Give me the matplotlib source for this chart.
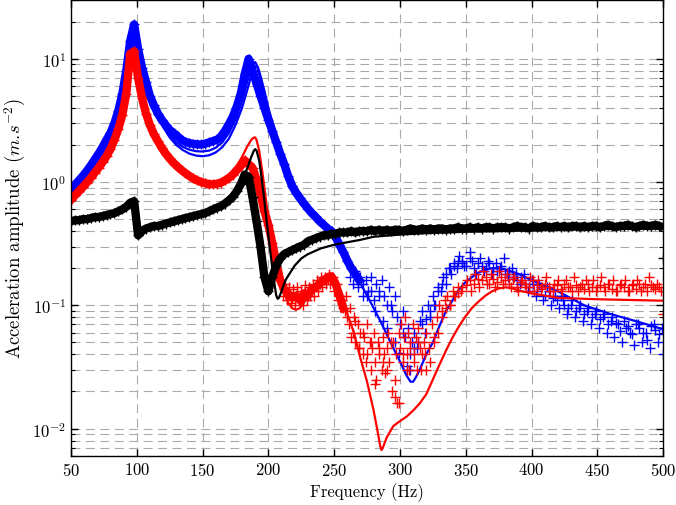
import matplotlib
matplotlib.use('Agg')
import matplotlib.pyplot as plt
import numpy as np

plt.rcParams['font.family'] = 'serif'
plt.rcParams['font.serif'] = ['cmr10']
plt.rcParams['mathtext.fontset'] = 'cm'
plt.rcParams['axes.formatter.use_mathtext'] = True
plt.rcParams['axes.unicode_minus'] = False

# measured points, every 3 Hz from 50 to 500 Hz
f_meas = np.arange(50, 501, 3)

blue_meas = [
    0.87, 0.95, 1.03, 1.12, 1.23, 1.36, 1.52, 1.70, 1.92, 2.2,
    2.5, 3.0, 3.8, 5.2, 8.0, 14.0, 19.0, 12.0, 8.5, 6.5,
    5.0, 4.2, 3.6, 3.2, 2.9, 2.65, 2.5, 2.35, 2.2, 2.12,
    2.07, 2.04, 2.02, 2.02, 2.05, 2.1, 2.15, 2.2, 2.35, 2.6,
    2.95, 3.4, 4.1, 5.2, 7.5, 10.0, 8.0, 6.3, 5.0, 4.0,
    3.2, 2.6, 2.1, 1.7, 1.4, 1.12, 0.93, 0.82, 0.74, 0.67,
    0.61, 0.56, 0.52, 0.48, 0.45, 0.42, 0.40, 0.36, 0.31, 0.27,
    0.23, 0.2, 0.18, 0.16, 0.15, 0.12, 0.13, 0.09, 0.12, 0.075,
    0.065, 0.10, 0.05, 0.041, 0.06, 0.032, 0.03, 0.045, 0.05, 0.07,
    0.078, 0.09, 0.1, 0.13, 0.15, 0.18, 0.2, 0.21, 0.23, 0.22,
    0.21, 0.24, 0.2, 0.22, 0.21, 0.2, 0.22, 0.2, 0.19, 0.21,
    0.18, 0.19, 0.17, 0.16, 0.17, 0.15, 0.14, 0.15, 0.13, 0.14,
    0.12, 0.13, 0.115, 0.11, 0.12, 0.1, 0.095, 0.11, 0.09, 0.1,
    0.085, 0.095, 0.08, 0.09, 0.078, 0.085, 0.07, 0.08, 0.072, 0.062,
    0.075, 0.068, 0.058, 0.07, 0.065, 0.06, 0.052, 0.068, 0.063, 0.058,
    0.04]

red_meas = [
    0.72, 0.78, 0.84, 0.91, 0.99, 1.08, 1.19, 1.31, 1.45, 1.62,
    1.85, 2.2, 2.7, 3.5, 5.2, 11.0, 11.5, 7.0, 4.8, 3.6,
    2.9, 2.45, 2.15, 1.9, 1.7, 1.55, 1.43, 1.33, 1.25, 1.18,
    1.12, 1.07, 1.03, 1.0, 0.98, 0.96, 0.96, 0.97, 0.99, 1.03,
    1.08, 1.15, 1.25, 1.35, 1.5, 1.4, 1.3, 1.05, 0.8, 0.58,
    0.45, 0.32, 0.22, 0.16, 0.135, 0.125, 0.115, 0.12, 0.11, 0.125,
    0.12, 0.135, 0.14, 0.15, 0.16, 0.165, 0.17, 0.15, 0.12, 0.095,
    0.08, 0.055, 0.075, 0.045, 0.06, 0.04, 0.05, 0.023, 0.045, 0.035,
    0.03, 0.05, 0.025, 0.016, 0.04, 0.03, 0.045, 0.035, 0.05, 0.04,
    0.03, 0.035, 0.05, 0.06, 0.08, 0.095, 0.1, 0.12, 0.125, 0.14,
    0.145, 0.16, 0.15, 0.165, 0.16, 0.17, 0.15, 0.165, 0.155, 0.17,
    0.16, 0.15, 0.165, 0.14, 0.155, 0.15, 0.14, 0.16, 0.145, 0.135,
    0.15, 0.14, 0.13, 0.145, 0.135, 0.15, 0.14, 0.13, 0.145, 0.14,
    0.135, 0.15, 0.14, 0.13, 0.145, 0.14, 0.15, 0.135, 0.13, 0.145,
    0.14, 0.13, 0.145, 0.135, 0.15, 0.14, 0.13, 0.145, 0.135, 0.14,
    0.085]

black_meas = [
    0.48, 0.49, 0.49, 0.50, 0.50, 0.51, 0.52, 0.52, 0.53, 0.54,
    0.55, 0.56, 0.58, 0.60, 0.63, 0.68, 0.70, 0.37, 0.40, 0.42,
    0.43, 0.44, 0.44, 0.45, 0.46, 0.47, 0.48, 0.49, 0.50, 0.51,
    0.52, 0.53, 0.54, 0.55, 0.56, 0.58, 0.60, 0.62, 0.64, 0.67,
    0.71, 0.76, 0.84, 0.96, 1.15, 1.1, 0.75, 0.48, 0.3, 0.17,
    0.13, 0.17, 0.21, 0.24, 0.26, 0.27, 0.28, 0.29, 0.30, 0.31,
    0.33, 0.34, 0.35, 0.36, 0.37, 0.37, 0.38, 0.38, 0.39, 0.39,
    0.39, 0.40, 0.39, 0.40, 0.40, 0.40, 0.41, 0.40, 0.41, 0.40,
    0.41, 0.40, 0.41, 0.41, 0.40, 0.41, 0.42, 0.41, 0.41, 0.42,
    0.41, 0.42, 0.41, 0.42, 0.42, 0.41, 0.42, 0.42, 0.43, 0.42,
    0.42, 0.43, 0.42, 0.43, 0.42, 0.43, 0.43, 0.42, 0.43, 0.43,
    0.43, 0.42, 0.43, 0.44, 0.43, 0.43, 0.42, 0.44, 0.43, 0.43,
    0.44, 0.43, 0.43, 0.44, 0.43, 0.44, 0.43, 0.44, 0.44, 0.43,
    0.44, 0.43, 0.44, 0.44, 0.43, 0.44, 0.45, 0.44, 0.43, 0.44,
    0.44, 0.45, 0.44, 0.43, 0.44, 0.45, 0.44, 0.44, 0.45, 0.44,
    0.24]

# extra scattered measurements (noisy regions)
red_xf = [211, 213, 214, 216, 217, 219, 220, 222, 223, 225, 226, 228, 229, 231, 232,
          234, 235, 237, 238, 240, 241, 243, 244, 246, 247, 249, 250, 252, 253, 255,
          256, 258, 259, 261, 262, 264, 265, 266, 268, 269, 270, 272, 273, 274, 275,
          277, 278, 279, 280, 281, 282, 283, 284, 286, 287, 288, 289, 290, 291, 292,
          294, 295, 296, 297, 298, 299, 300, 301, 302, 303, 304, 305, 306, 307, 308,
          310, 311, 312, 313, 314, 315, 316, 318, 319, 320, 322, 324, 326, 328, 330,
          332, 334, 336, 338, 340, 342, 344, 346,
          351, 354, 357, 360, 363, 366, 369, 372, 375, 378, 381, 384, 387, 390, 393,
          396, 399, 402, 405, 408, 411, 414, 417, 420, 423, 426, 429, 432, 435, 438,
          441, 444, 447, 450, 453, 456, 459, 462, 465, 468, 471, 474, 477, 480, 483,
          486, 489, 492, 495, 498]
red_xv = [0.12, 0.15, 0.11, 0.14, 0.105, 0.135, 0.1, 0.14, 0.11, 0.13, 0.1, 0.145, 0.11, 0.14, 0.12,
          0.15, 0.12, 0.16, 0.13, 0.17, 0.14, 0.17, 0.15, 0.18, 0.15, 0.17, 0.13, 0.15, 0.11, 0.12,
          0.11, 0.09, 0.12, 0.07, 0.095, 0.06, 0.08, 0.05, 0.07, 0.045, 0.06, 0.04, 0.055, 0.035, 0.07,
          0.05, 0.03, 0.045, 0.06, 0.035, 0.025, 0.05, 0.04, 0.03, 0.055, 0.04, 0.028, 0.045, 0.06, 0.035,
          0.02, 0.05, 0.018, 0.04, 0.016, 0.06, 0.045, 0.07, 0.035, 0.055, 0.08, 0.04, 0.06, 0.03, 0.05,
          0.07, 0.04, 0.055, 0.03, 0.065, 0.045, 0.03, 0.05, 0.04, 0.06, 0.045, 0.07, 0.055, 0.08, 0.1,
          0.09, 0.11, 0.12, 0.1, 0.13, 0.12, 0.14, 0.13,
          0.16, 0.13, 0.18, 0.14, 0.19, 0.15, 0.18, 0.14, 0.19, 0.15, 0.18, 0.14, 0.17, 0.13, 0.16,
          0.14, 0.17, 0.13, 0.16, 0.14, 0.17, 0.13, 0.15, 0.16, 0.13, 0.16, 0.14, 0.17, 0.13, 0.15,
          0.16, 0.13, 0.16, 0.14, 0.17, 0.13, 0.15, 0.16, 0.13, 0.15, 0.16, 0.13, 0.15, 0.16, 0.13,
          0.15, 0.17, 0.14, 0.15, 0.13]

blue_xf = [262, 264, 266, 268, 270, 272, 274, 276, 278, 280, 282, 284, 286, 288, 290,
           292, 294, 296, 298, 300, 302, 304, 306, 308, 309, 311, 313, 315, 317, 319,
           321, 323, 325, 327, 329, 331, 333, 335, 337, 339, 341, 343, 345, 347, 349, 353,
           355, 358, 361, 364, 367, 370, 373, 376, 379, 382, 385, 388, 391, 394, 397,
           400, 403, 406, 409, 412, 415, 418, 421, 424, 427, 430, 433, 436, 439, 442,
           445, 448, 451, 454, 457, 460, 463, 466, 469, 472, 475, 478, 481, 484, 487,
           490, 493, 496, 499]
blue_xv = [0.17, 0.15, 0.19, 0.14, 0.17, 0.12, 0.16, 0.13, 0.17, 0.11, 0.15, 0.13, 0.16, 0.12, 0.1,
           0.14, 0.09, 0.12, 0.08, 0.07, 0.09, 0.055, 0.065, 0.04, 0.05, 0.06, 0.045, 0.075, 0.09, 0.06,
           0.1, 0.08, 0.12, 0.1, 0.14, 0.13, 0.17, 0.15, 0.2, 0.18, 0.22, 0.2, 0.25, 0.23, 0.21, 0.27,
           0.23, 0.18, 0.24, 0.19, 0.23, 0.18, 0.22, 0.2, 0.24, 0.17, 0.2, 0.18, 0.15, 0.18, 0.13,
           0.16, 0.12, 0.15, 0.11, 0.14, 0.1, 0.12, 0.095, 0.11, 0.085, 0.1, 0.08, 0.095, 0.075, 0.09,
           0.07, 0.085, 0.065, 0.08, 0.06, 0.075, 0.055, 0.07, 0.05, 0.065, 0.06, 0.048, 0.07, 0.05, 0.06,
           0.045, 0.07, 0.05, 0.065]

# model curves
f_blue = [50, 60, 70, 80, 85, 90, 93, 95, 97, 98, 99, 101, 104, 108, 112, 116,
          120, 125, 130, 135, 140, 145, 150, 155, 160, 165, 170, 175, 180, 184,
          187, 189, 190, 191, 193, 196, 200, 205, 210, 215, 220, 225, 230, 235,
          240, 245, 250, 255, 260, 265, 270, 275, 280, 285, 290, 295, 300, 305,
          308, 310, 312, 315, 320, 325, 330, 335, 340, 345, 350, 355, 360, 365,
          370, 375, 380, 390, 400, 420, 440, 460, 480, 500]
blue_model = [0.85, 1.15, 1.65, 2.5, 3.3, 5.0, 7.5, 11, 17, 18, 17, 12, 8, 5.5, 4.2, 3.4,
              2.85, 2.4, 2.1, 1.93, 1.83, 1.78, 1.77, 1.8, 1.9, 2.1, 2.5, 3.2, 4.6, 6.5,
              8.5, 9.3, 9.4, 9.0, 7.5, 5.5, 3.8, 2.5, 1.7, 1.25, 0.95, 0.77, 0.65, 0.57,
              0.50, 0.44, 0.38, 0.32, 0.25, 0.19, 0.15, 0.12, 0.095, 0.075, 0.058, 0.045, 0.035, 0.027,
              0.024, 0.024, 0.026, 0.03, 0.04, 0.05, 0.068, 0.09, 0.11, 0.135, 0.155, 0.17, 0.185, 0.195,
              0.2, 0.2, 0.195, 0.18, 0.16, 0.13, 0.10, 0.085, 0.074, 0.064]

f_blue2 = [120, 125, 130, 135, 140, 145, 150, 155, 160, 165, 170, 175, 180, 184,
           187, 189, 191, 192, 194, 197, 200, 205, 210, 215, 220]
blue_model2 = [2.8, 2.3, 2.0, 1.82, 1.70, 1.64, 1.62, 1.65, 1.74, 1.92, 2.25, 2.9, 4.0, 5.6,
               7.3, 8.4, 8.8, 8.6, 7.3, 5.5, 4.0, 2.6, 1.75, 1.26, 0.95]

f_red = [50, 60, 70, 80, 85, 90, 93, 95, 97, 98, 99, 101, 104, 108, 112, 116,
         120, 125, 130, 135, 140, 145, 150, 155, 160, 165, 170, 175, 180, 184,
         187, 189, 190, 191, 193, 195, 197, 199, 201, 203, 206, 209, 212, 215,
         218, 221, 224, 227, 230, 235, 240, 245, 248, 250, 255, 260, 265, 270,
         275, 280, 283, 285, 286, 287, 290, 295, 300, 305, 310, 315, 320, 325,
         330, 335, 340, 345, 350, 355, 360, 365, 370, 375, 380, 385, 390, 400,
         420, 450, 500]
red_model = [0.72, 0.92, 1.28, 1.85, 2.5, 3.8, 5.5, 8.5, 11.5, 11.8, 11, 8, 5, 3.4, 2.6, 2.1,
             1.8, 1.52, 1.34, 1.2, 1.1, 1.03, 0.99, 0.97, 0.98, 1.02, 1.12, 1.3, 1.6, 1.95,
             2.2, 2.3, 2.3, 2.2, 1.8, 1.3, 0.9, 0.6, 0.43, 0.32, 0.22, 0.16, 0.125, 0.105,
             0.095, 0.092, 0.095, 0.105, 0.12, 0.145, 0.165, 0.18, 0.182, 0.175, 0.12, 0.085, 0.06, 0.037,
             0.024, 0.014, 0.0095, 0.0072, 0.0067, 0.007, 0.0085, 0.0105, 0.0115, 0.0125, 0.014, 0.016, 0.019, 0.025,
             0.033, 0.043, 0.055, 0.068, 0.082, 0.096, 0.108, 0.12, 0.13, 0.137, 0.14, 0.138, 0.132, 0.125,
             0.115, 0.112, 0.109]

f_black = [50, 60, 70, 80, 90, 95, 97, 98, 99, 100, 101, 103, 106, 110, 120, 130,
           140, 150, 160, 170, 175, 180, 184, 187, 189, 190, 191, 193, 195, 197,
           199, 201, 203, 205, 206, 207, 208, 210, 213, 216, 220, 225, 230, 240,
           250, 260, 270, 280, 300, 320, 350, 400, 450, 500]
black_model = [0.48, 0.49, 0.51, 0.54, 0.6, 0.66, 0.7, 0.71, 0.6, 0.42, 0.37, 0.38, 0.40, 0.42, 0.45, 0.48,
               0.52, 0.55, 0.61, 0.72, 0.82, 1.0, 1.3, 1.6, 1.8, 1.85, 1.8, 1.5, 1.05, 0.7,
               0.45, 0.3, 0.2, 0.14, 0.12, 0.113, 0.115, 0.13, 0.16, 0.18, 0.21, 0.24, 0.26, 0.29,
               0.31, 0.325, 0.34, 0.36, 0.375, 0.385, 0.395, 0.405, 0.415, 0.42]

fig = plt.figure(figsize=(6.76, 5.06), dpi=100)
ax = fig.add_axes([0.105, 0.097, 0.876, 0.901])

mk = dict(ls='none', marker='+', ms=7, mew=1.0)
band = dict(lw=6, solid_joinstyle='round')
nb = 74   # blue band up to ~269 Hz
nr = 70   # red band up to ~257 Hz

ax.plot(f_meas[:nb], blue_meas[:nb], color='b', **band)
ax.plot(f_meas, blue_meas, color='b', **mk)
ax.plot(blue_xf, blue_xv, color='b', **mk)
ax.plot(f_blue, blue_model, color='b', lw=1.6)
ax.plot(f_blue2, blue_model2, color='b', lw=1.6)

ax.plot(f_meas[:nr], red_meas[:nr], color='r', **band)
ax.plot(f_meas, red_meas, color='r', **mk)
ax.plot(red_xf, red_xv, color='r', **mk)
ax.plot(f_red, red_model, color='r', lw=1.6)

ax.plot(f_meas[:-1], black_meas[:-1], color='k', **band)
ax.plot(f_meas, black_meas, color='k', **mk)
ax.plot(f_black, black_model, color='k', lw=1.6)

ax.set_yscale('log')
ax.set_xlim(50, 500)
ax.set_ylim(0.006, 30)
ax.set_xticks(np.arange(50, 501, 50))
ax.set_axisbelow(True)
ax.grid(True, which='major', axis='both', color='#aaaaaa', ls=(0, (8, 5)), lw=0.8)
ax.grid(True, which='minor', axis='y', color='#aaaaaa', ls=(0, (8, 5)), lw=0.8)
ax.tick_params(which='both', direction='in', top=True, right=True, labelsize=12)
ax.tick_params(which='major', length=5, width=1)
ax.tick_params(which='minor', length=3, width=0.8)
for s in ax.spines.values():
    s.set_linewidth(1.0)

ax.set_xlabel('Frequency (Hz)', fontsize=12, labelpad=3)
ax.set_ylabel(r'Acceleration amplitude $(m.\!s^{-2})$', fontsize=13.5)
ax.yaxis.set_label_coords(-0.072, 0.5)

fig.savefig('out.png', dpi=100)
